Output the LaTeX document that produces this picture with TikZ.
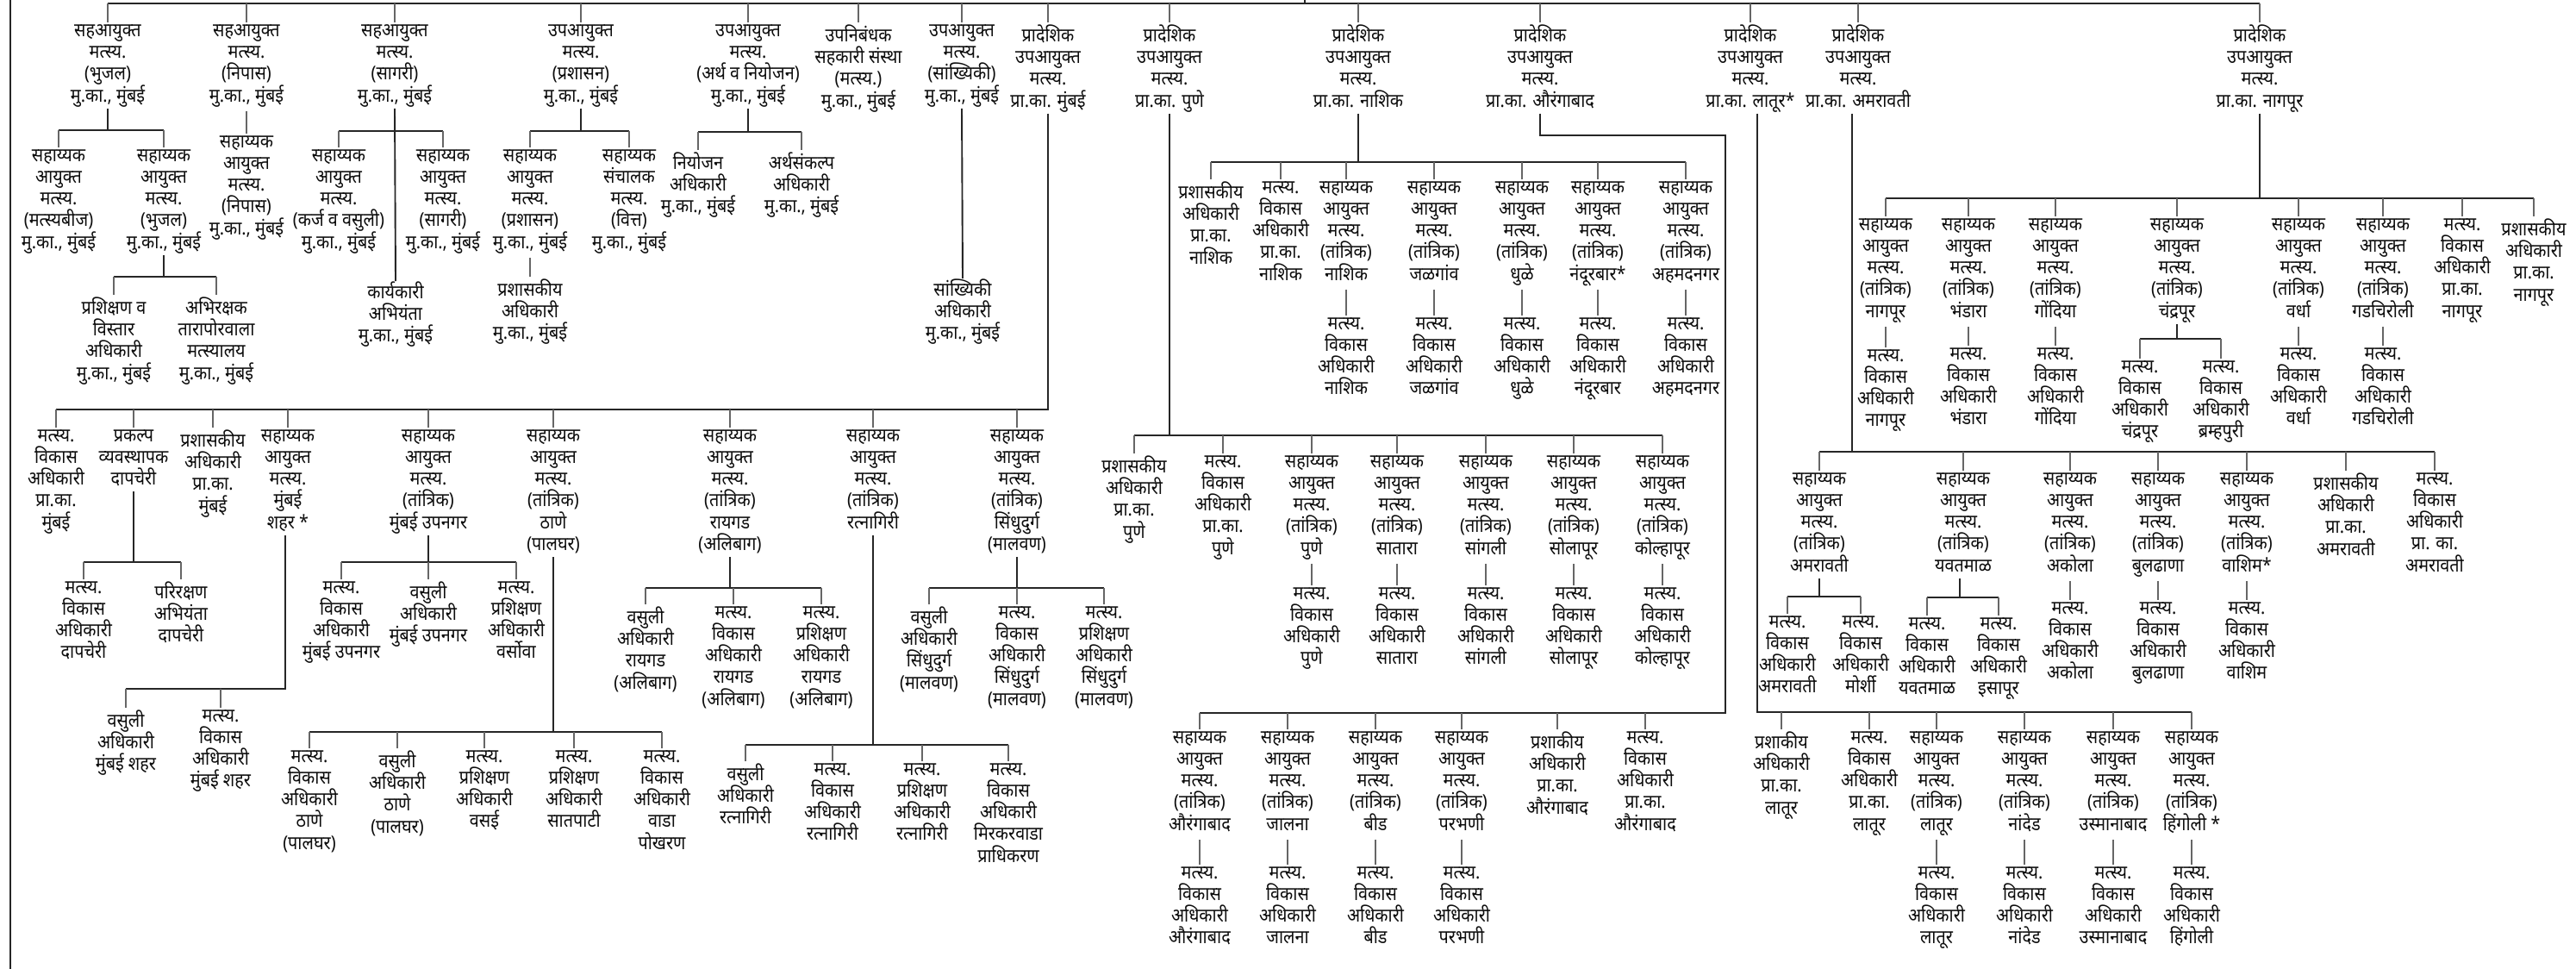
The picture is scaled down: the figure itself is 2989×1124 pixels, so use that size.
\documentclass[tikz,border=0pt]{standalone}
\usepackage{fontspec}
\setmainfont[Script=Devanagari, FakeStretch=0.9]{Noto Sans}
\newcommand\myP[1]{प्रादेशिक\\उपआयुक्त\\मत्स्य.\\प्रा.का. #1}
\newcommand\myS[1]{सहाय्यक\\आयुक्त\\मत्स्य.\\(तांत्रिक)\\#1}
\newcommand\myV[1]{मत्स्य.\\विकास\\अधिकारी\\#1}
\begin{document}
\begin{tikzpicture}[x=0.5pt,y=-0.5pt,
  t/.style={anchor=north, yshift=7pt, align=center, inner sep=0pt, text=black!95,
    font={\fontsize{11}{12.65}\selectfont\lineskiplimit=-50pt\lineskip=0pt},
    execute at begin node={\rule{0pt}{11pt}},
    execute at end node={\rule[-3.6pt]{0pt}{3.6pt}}},
  bus/.style={line width=0.95pt, draw=black!85},
  drop/.style={line width=0.6pt, draw=black!60, shorten >=1pt},
  link/.style={drop, shorten <=1.5pt},
  topline/.style={line width=1.3pt, draw=black!85}]
\useasboundingbox (0,0) rectangle (2989,1124);
\fill[white] (0,0) rectangle (2989,1124);

% ---------- top row ----------
\node[t] (n1) at (125,42) {सहआयुक्त\\मत्स्य.\\(भुजल)\\मु.का., मुंबई};
\node[t] (n2) at (286,42) {सहआयुक्त\\मत्स्य.\\(निपास)\\मु.का., मुंबई};
\node[t] (n3) at (458,42) {सहआयुक्त\\मत्स्य.\\(सागरी)\\मु.का., मुंबई};
\node[t] (n4) at (674,42) {उपआयुक्त\\मत्स्य.\\(प्रशासन)\\मु.का., मुंबई};
\node[t] (n5) at (868,42) {उपआयुक्त\\मत्स्य.\\(अर्थ व नियोजन)\\मु.का., मुंबई};
\node[t] (n6) at (996,42) {उपनिबंधक\\सहकारी संस्था\\(मत्स्य.)\\मु.का., मुंबई};
\node[t] (n7) at (1116,42) {उपआयुक्त\\मत्स्य.\\(सांख्यिकी)\\मु.का., मुंबई};
\node[t] (n8) at (1216,42) {\myP{मुंबई}};
\node[t] (n9) at (1357,42) {\myP{पुणे}};
\node[t] (n10) at (1576,42) {\myP{नाशिक}};
\node[t] (n11) at (1787,42) {\myP{औरंगाबाद}};
\node[t] (n12) at (2031,42) {\myP{लातूर*}};
\node[t] (n13) at (2156,42) {\myP{अमरावती}};
\node[t] (n14) at (2622,42) {\myP{नागपूर}};

\coordinate (root) at (1514,0);
\draw[bus] (12,0) -- (12,1124);
\draw[bus] (root) -- ++(0,4);
\draw[topline] (n1.north |- 0,4) -- (n14.north |- 0,4);
\foreach \i in {1,...,14} \draw[drop] (n\i.north |- 0,4) -- (n\i.north);

% ---------- Mumbai HQ branches ----------
\node[t] (a1) at (68,187) {सहाय्यक\\आयुक्त\\मत्स्य.\\(मत्स्यबीज)\\मु.का., मुंबई};
\node[t] (a2) at (190,187) {सहाय्यक\\आयुक्त\\मत्स्य.\\(भुजल)\\मु.का., मुंबई};
\node[t] (a21) at (132,358) {प्रशिक्षण व\\विस्तार\\अधिकारी\\मु.का., मुंबई};
\node[t] (a22) at (251,358) {अभिरक्षक\\तारापोरवाला\\मत्स्यालय\\मु.का., मुंबई};
\node[t] (b1) at (286,171) {सहाय्यक\\आयुक्त\\मत्स्य.\\(निपास)\\मु.का., मुंबई};
\node[t] (c1) at (393,187) {सहाय्यक\\आयुक्त\\मत्स्य.\\(कर्ज व वसुली)\\मु.का., मुंबई};
\node[t] (c2) at (514,187) {सहाय्यक\\आयुक्त\\मत्स्य.\\(सागरी)\\मु.का., मुंबई};
\node[t] (c3) at (459,340) {कार्यकारी\\अभियंता\\मु.का., मुंबई};
\node[t] (d1) at (615,187) {सहाय्यक\\आयुक्त\\मत्स्य.\\(प्रशासन)\\मु.का., मुंबई};
\node[t] (d2) at (730,187) {सहाय्यक\\संचालक\\मत्स्य.\\(वित्त)\\मु.का., मुंबई};
\node[t] (d11) at (615,337) {प्रशासकीय\\अधिकारी\\मु.का., मुंबई};
\node[t] (e1) at (810,190) {नियोजन\\अधिकारी\\मु.का., मुंबई};
\node[t] (e2) at (930,190) {अर्थसंकल्प\\अधिकारी\\मु.का., मुंबई};
\node[t] (f1) at (1117,337) {सांख्यिकी\\अधिकारी\\मु.का., मुंबई};

\draw[bus] (n1.south) -- (n1.south |- 0,151);
\draw[bus] (a1.north |- 0,151) -- (a2.north |- 0,151);
\foreach \c in {a1,a2} \draw[drop] (\c.north |- 0,151) -- (\c.north);
\draw[bus] (a2.south) -- (a2.south |- 0,321);
\draw[bus] (a21.north |- 0,321) -- (a22.north |- 0,321);
\foreach \c in {a21,a22} \draw[drop] (\c.north |- 0,321) -- (\c.north);
\draw[link] (n2.south) -- (b1.north);
\draw[bus] (n3.south) -- (c3.north);
\draw[bus] (c1.north |- 0,152) -- (c2.north |- 0,152);
\foreach \c in {c1,c2} \draw[drop] (\c.north |- 0,152) -- (\c.north);
\draw[bus] (n4.south) -- (n4.south |- 0,152);
\draw[bus] (d1.north |- 0,152) -- (d2.north |- 0,152);
\foreach \c in {d1,d2} \draw[drop] (\c.north |- 0,152) -- (\c.north);
\draw[link] (d1.south) -- (d11.north);
\draw[bus] (n5.south) -- (n5.south |- 0,153);
\draw[bus] (e1.north |- 0,153) -- (e2.north |- 0,153);
\foreach \c in {e1,e2} \draw[drop] (\c.north |- 0,153) -- (\c.north);
\draw[bus] (n7.south) -- (f1.north);

% ---------- Regional Mumbai ----------
\node[t] (m1) at (65,512) {मत्स्य.\\विकास\\अधिकारी\\प्रा.का.\\मुंबई};
\node[t] (m2) at (155,512) {प्रकल्प\\व्यवस्थापक\\दापचेरी};
\node[t] (m3) at (247,512) {प्रशासकीय\\अधिकारी\\प्रा.का.\\मुंबई};
\node[t] (m4) at (334,512) {सहाय्यक\\आयुक्त\\मत्स्य.\\मुंबई\\शहर *};
\node[t] (m5) at (497,512) {\myS{मुंबई उपनगर}};
\node[t] (m6) at (642,512) {\myS{ठाणे\\(पालघर)}};
\node[t] (m7) at (847,512) {\myS{रायगड\\(अलिबाग)}};
\node[t] (m8) at (1013,512) {\myS{रत्नागिरी}};
\node[t] (m9) at (1180,512) {\myS{सिंधुदुर्ग\\(मालवण)}};
\draw[bus] (n8.south) |- (m1.north |- 0,475);
\foreach \c in {m1,m2,m3,m4,m5,m6,m7,m8,m9} \draw[drop] (\c.north |- 0,475) -- (\c.north);

\node[t] (m21) at (97,688) {\myV{दापचेरी}};
\node[t] (m22) at (210,688) {परिरक्षण\\अभियंता\\दापचेरी};
\draw[bus] (m2.south) -- (m2.south |- 0,652);
\draw[bus] (m21.north |- 0,652) -- (m22.north |- 0,652);
\foreach \c in {m21,m22} \draw[drop] (\c.north |- 0,652) -- (\c.north);

\node[t] (m41) at (146,837) {वसुली\\अधिकारी\\मुंबई शहर};
\node[t] (m42) at (256,837) {\myV{मुंबई शहर}};
\draw[bus] ([xshift=-1.5pt]m4.south) |- (m41.north |- 0,799);
\foreach \c in {m41,m42} \draw[drop] (\c.north |- 0,799) -- (\c.north);

\node[t] (m51) at (396,688) {\myV{मुंबई उपनगर}};
\node[t] (m52) at (497,688) {वसुली\\अधिकारी\\मुंबई उपनगर};
\node[t] (m53) at (599,688) {मत्स्य.\\प्रशिक्षण\\अधिकारी\\वर्सोवा};
\draw[bus] (m5.south) -- (m5.south |- 0,652);
\draw[bus] (m51.north |- 0,652) -- (m53.north |- 0,652);
\foreach \c in {m51,m52,m53} \draw[drop] (\c.north |- 0,652) -- (\c.north);

\node[t] (m61) at (359,884) {\myV{ठाणे\\(पालघर)}};
\node[t] (m62) at (461,884) {वसुली\\अधिकारी\\ठाणे\\(पालघर)};
\node[t] (m63) at (562,884) {मत्स्य.\\प्रशिक्षण\\अधिकारी\\वसई};
\node[t] (m64) at (666,884) {मत्स्य.\\प्रशिक्षण\\अधिकारी\\सातपाटी};
\node[t] (m65) at (768,884) {\myV{वाडा\\पोखरण}};
\draw[bus] (m6.south) -- (m6.south |- 0,849);
\draw[bus] (m61.north |- 0,849) -- (m65.north |- 0,849);
\foreach \c in {m61,m62,m63,m64,m65} \draw[drop] (\c.north |- 0,849) -- (\c.north);

\node[t] (m71) at (749,717) {वसुली\\अधिकारी\\रायगड\\(अलिबाग)};
\node[t] (m72) at (851,717) {\myV{रायगड\\(अलिबाग)}};
\node[t] (m73) at (953,717) {मत्स्य.\\प्रशिक्षण\\अधिकारी\\रायगड\\(अलिबाग)};
\draw[bus] (m7.south) -- (m7.south |- 0,682);
\draw[bus] (m71.north |- 0,682) -- (m73.north |- 0,682);
\foreach \c in {m71,m72,m73} \draw[drop] (\c.north |- 0,682) -- (\c.north);

\node[t] (m81) at (865,899) {वसुली\\अधिकारी\\रत्नागिरी};
\node[t] (m82) at (966,899) {\myV{रत्नागिरी}};
\node[t] (m83) at (1070,899) {मत्स्य.\\प्रशिक्षण\\अधिकारी\\रत्नागिरी};
\node[t] (m84) at (1170,899) {\myV{मिरकरवाडा\\प्राधिकरण}};
\draw[bus] (m8.south) -- (m8.south |- 0,864);
\draw[bus] (m81.north |- 0,864) -- (m84.north |- 0,864);
\foreach \c in {m81,m82,m83,m84} \draw[drop] (\c.north |- 0,864) -- (\c.north);

\node[t] (m91) at (1078,717) {वसुली\\अधिकारी\\सिंधुदुर्ग\\(मालवण)};
\node[t] (m92) at (1180,717) {\myV{सिंधुदुर्ग\\(मालवण)}};
\node[t] (m93) at (1281,717) {मत्स्य.\\प्रशिक्षण\\अधिकारी\\सिंधुदुर्ग\\(मालवण)};
\draw[bus] (m9.south) -- (m9.south |- 0,682);
\draw[bus] (m91.north |- 0,682) -- (m93.north |- 0,682);
\foreach \c in {m91,m92,m93} \draw[drop] (\c.north |- 0,682) -- (\c.north);

% ---------- Pune ----------
\node[t] (p1) at (1316,542) {प्रशासकीय\\अधिकारी\\प्रा.का.\\पुणे};
\node[t] (p2) at (1419,542) {\myV{प्रा.का.\\पुणे}};
\node[t] (p3) at (1522,542) {\myS{पुणे}};
\node[t] (p4) at (1621,542) {\myS{सातारा}};
\node[t] (p5) at (1724,542) {\myS{सांगली}};
\node[t] (p6) at (1826,542) {\myS{सोलापूर}};
\node[t] (p7) at (1929,542) {\myS{कोल्हापूर}};
\node[t] (p3c) at (1522,695) {\myV{पुणे}};
\node[t] (p4c) at (1621,695) {\myV{सातारा}};
\node[t] (p5c) at (1724,695) {\myV{सांगली}};
\node[t] (p6c) at (1826,695) {\myV{सोलापूर}};
\node[t] (p7c) at (1929,695) {\myV{कोल्हापूर}};
\draw[bus] (n9.south) -- (n9.south |- 0,505);
\draw[bus] (p1.north |- 0,505) -- (p7.north |- 0,505);
\foreach \c in {p1,p2,p3,p4,p5,p6,p7} \draw[drop] (\c.north |- 0,505) -- (\c.north);
\foreach \c in {p3,p4,p5,p6,p7} \draw[link] (\c.south) -- (\c c.north);

% ---------- Nashik ----------
\node[t] (k1) at (1405,224) {प्रशासकीय\\अधिकारी\\प्रा.का.\\नाशिक};
\node[t] (k2) at (1486,224) {\myV{प्रा.का.\\नाशिक}};
\node[t] (k3) at (1562,224) {\myS{नाशिक}};
\node[t] (k4) at (1664,224) {\myS{जळगांव}};
\node[t] (k5) at (1766,224) {\myS{धुळे}};
\node[t] (k6) at (1854,224) {\myS{नंदूरबार*}};
\node[t] (k7) at (1956,224) {\myS{अहमदनगर}};
\node[t] (k3c) at (1562,382) {\myV{नाशिक}};
\node[t] (k4c) at (1664,382) {\myV{जळगांव}};
\node[t] (k5c) at (1766,382) {\myV{धुळे}};
\node[t] (k6c) at (1854,382) {\myV{नंदूरबार}};
\node[t] (k7c) at (1956,382) {\myV{अहमदनगर}};
\draw[bus] (n10.south) -- (n10.south |- 0,188);
\draw[bus] (k1.north |- 0,188) -- (k7.north |- 0,188);
\foreach \c in {k1,k2,k3,k4,k5,k6,k7} \draw[drop] (\c.north |- 0,188) -- (\c.north);
\foreach \c in {k3,k4,k5,k6,k7} \draw[link] (\c.south) -- (\c c.north);

% ---------- Aurangabad ----------
\node[t] (au1) at (1392,862) {\myS{औरंगाबाद}};
\node[t] (au2) at (1494,862) {\myS{जालना}};
\node[t] (au3) at (1596,862) {\myS{बीड}};
\node[t] (au4) at (1696,862) {\myS{परभणी}};
\node[t] (au5) at (1807,862) {प्रशाकीय\\अधिकारी\\प्रा.का.\\औरंगाबाद};
\node[t] (au6) at (1909,862) {\myV{प्रा.का.\\औरंगाबाद}};
\node[t] (au1c) at (1392,1019) {\myV{औरंगाबाद}};
\node[t] (au2c) at (1494,1019) {\myV{जालना}};
\node[t] (au3c) at (1596,1019) {\myV{बीड}};
\node[t] (au4c) at (1696,1019) {\myV{परभणी}};
\coordinate (aubend) at (2002,157);
\draw[bus] (n11.south) |- (aubend) |- (au1.north |- 0,827);
\foreach \c in {au1,au2,au3,au4,au5,au6} \draw[drop] (\c.north |- 0,827) -- (\c.north);
\foreach \c in {au1,au2,au3,au4} \draw[link] (\c.south) -- (\c c.north);

% ---------- Latur ----------
\node[t] (la1) at (2067,862) {प्रशाकीय\\अधिकारी\\प्रा.का.\\लातूर};
\node[t] (la2) at (2169,862) {\myV{प्रा.का.\\लातूर}};
\node[t] (la3) at (2247,862) {\myS{लातूर}};
\node[t] (la4) at (2349,862) {\myS{नांदेड}};
\node[t] (la5) at (2452,862) {\myS{उस्मानाबाद}};
\node[t] (la6) at (2543,862) {\myS{हिंगोली *}};
\node[t] (la3c) at (2247,1019) {\myV{लातूर}};
\node[t] (la4c) at (2349,1019) {\myV{नांदेड}};
\node[t] (la5c) at (2452,1019) {\myV{उस्मानाबाद}};
\node[t] (la6c) at (2543,1019) {\myV{हिंगोली}};
\draw[bus] ([xshift=4pt]n12.south) |- (la6.north |- 0,826);
\foreach \c in {la1,la2,la3,la4,la5,la6} \draw[drop] (\c.north |- 0,826) -- (\c.north);
\foreach \c in {la3,la4,la5,la6} \draw[link] (\c.south) -- (\c c.north);

% ---------- Amravati ----------
\node[t] (am1) at (2111,562) {\myS{अमरावती}};
\node[t] (am2) at (2278,562) {\myS{यवतमाळ}};
\node[t] (am3) at (2402,562) {\myS{अकोला}};
\node[t] (am4) at (2504,562) {\myS{बुलढाणा}};
\node[t] (am5) at (2607,562) {\myS{वाशिम*}};
\node[t] (am6) at (2722,562) {प्रशासकीय\\अधिकारी\\प्रा.का.\\अमरावती};
\node[t] (am7) at (2825,562) {\myV{प्रा. का.\\अमरावती}};
\node[t] (am11) at (2074,728) {\myV{अमरावती}};
\node[t] (am12) at (2159,728) {\myV{मोर्शी}};
\node[t] (am21) at (2236,730) {\myV{यवतमाळ}};
\node[t] (am22) at (2319,730) {\myV{इसापूर}};
\node[t] (am3c) at (2402,712) {\myV{अकोला}};
\node[t] (am4c) at (2504,712) {\myV{बुलढाणा}};
\node[t] (am5c) at (2607,712) {\myV{वाशिम}};
\draw[bus] ([xshift=-3.5pt]n13.south) -- ([xshift=-3.5pt]n13.south |- 0,524);
\draw[bus] (am1.north |- 0,524) -- (am7.north |- 0,524);
\foreach \c in {am1,am2,am3,am4,am5,am6,am7} \draw[drop] (\c.north |- 0,524) -- (\c.north);
\draw[bus] (am1.south) -- (am1.south |- 0,692);
\draw[bus] (am11.north |- 0,692) -- (am12.north |- 0,692);
\foreach \c in {am11,am12} \draw[drop] (\c.north |- 0,692) -- (\c.north);
\draw[bus] ([xshift=-2pt]am2.south) -- ([xshift=-2pt]am2.south |- 0,693);
\draw[bus] (am21.north |- 0,693) -- (am22.north |- 0,693);
\foreach \c in {am21,am22} \draw[drop] (\c.north |- 0,693) -- (\c.north);
\foreach \c in {am3,am4,am5} \draw[link] (\c.south) -- (\c c.north);

% ---------- Nagpur ----------
\node[t] (ng1) at (2188,267) {\myS{नागपूर}};
\node[t] (ng2) at (2284,267) {\myS{भंडारा}};
\node[t] (ng3) at (2385,267) {\myS{गोंदिया}};
\node[t] (ng4) at (2526,267) {\myS{चंद्रपूर}};
\node[t] (ng5) at (2667,267) {\myS{वर्धा}};
\node[t] (ng6) at (2765,267) {\myS{गडचिरोली}};
\node[t] (ng7) at (2857,267) {\myV{प्रा.का.\\नागपूर}};
\node[t] (ng8) at (2940,267) {प्रशासकीय\\अधिकारी\\प्रा.का.\\नागपूर};
\node[t] (ng1c) at (2188,419) {\myV{नागपूर}};
\node[t] (ng2c) at (2284,417) {\myV{भंडारा}};
\node[t] (ng3c) at (2385,417) {\myV{गोंदिया}};
\node[t] (ng5c) at (2667,417) {\myV{वर्धा}};
\node[t] (ng6c) at (2765,417) {\myV{गडचिरोली}};
\node[t] (ng41) at (2483,432) {\myV{चंद्रपूर}};
\node[t] (ng42) at (2577,432) {\myV{ब्रम्हपुरी}};
\draw[bus] (n14.south) -- (n14.south |- 0,230);
\draw[bus] (ng1.north |- 0,230) -- (ng8.north |- 0,230);
\foreach \c in {ng1,ng2,ng3,ng4,ng5,ng6,ng7,ng8} \draw[drop] (\c.north |- 0,230) -- (\c.north);
\foreach \c in {ng1,ng2,ng3,ng5,ng6} \draw[link] (\c.south) -- (\c c.north);
\draw[bus] (ng4.south) -- (ng4.south |- 0,393);
\draw[bus] (ng41.north |- 0,393) -- (ng42.north |- 0,393);
\foreach \c in {ng41,ng42} \draw[drop] (\c.north |- 0,393) -- (\c.north);
\end{tikzpicture}
\end{document}
